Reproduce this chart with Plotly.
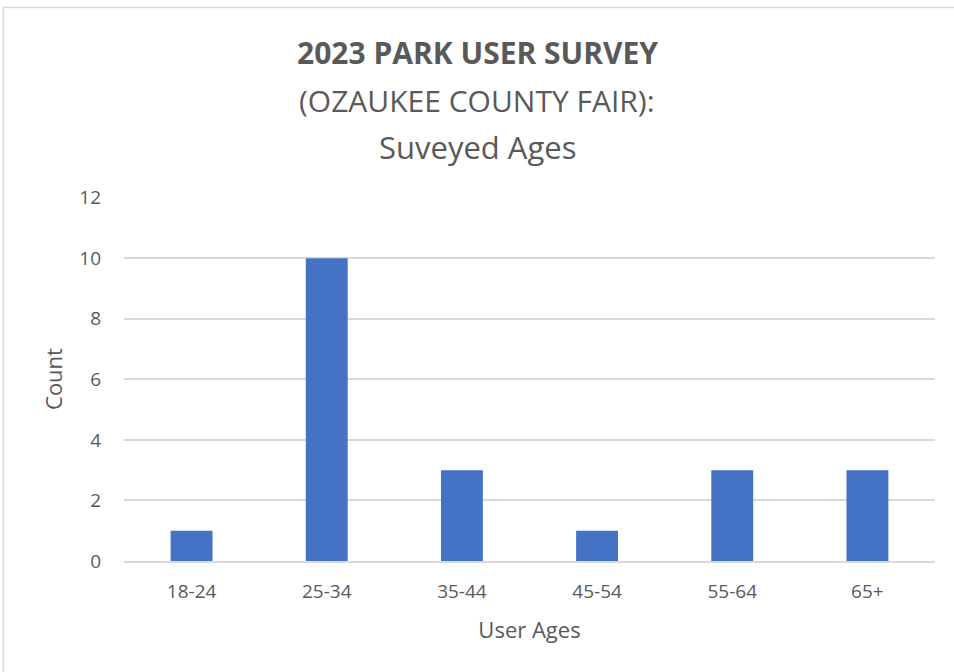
import plotly.graph_objects as go

categories = ["18-24", "25-34", "35-44", "45-54", "55-64", "65+"]
counts = [1, 10, 3, 1, 3, 3]
y_ticks = [0, 2, 4, 6, 8, 10, 12]

W, H = 954, 672
L, R, T, B = 124, 19, 197, 111
pw, ph = W - L - R, H - T - B

def px_x(px):
    return (px - L) / pw

def px_y(py):
    return (H - B - py) / ph

FONT = "Open Sans"
GRAY = "#595959"

fig = go.Figure(go.Bar(x=categories, y=counts, marker=dict(color="#4472C4", line=dict(width=0)),
                       width=0.31))

fig.update_layout(
    width=W, height=H,
    margin=dict(l=L, r=R, t=T, b=B),
    paper_bgcolor="white", plot_bgcolor="white",
    font=dict(family=FONT, color=GRAY),
    showlegend=False,
    xaxis=dict(showgrid=False, showline=True, linecolor="#d9d9d9", linewidth=1.5,
               ticks="", tickfont=dict(size=19, color=GRAY), ticklabelstandoff=12,
               title=dict(text="User Ages", font=dict(size=22, color=GRAY), standoff=20)),
    yaxis=dict(range=[0, 12.02], tickvals=y_ticks, showgrid=True, gridcolor="#d9d9d9", gridwidth=1.5,
               zeroline=False, showline=False, ticks="", tickfont=dict(size=19, color=GRAY),
               ticklabelstandoff=22,
               title=dict(text="Count", font=dict(size=22, color=GRAY), standoff=10)),
    shapes=[dict(type="rect", xref="paper", yref="paper",
                 x0=px_x(3.5), x1=px_x(970), y0=px_y(7.5), y1=px_y(690),
                 line=dict(color="#d9d9d9", width=1.5), layer="below")],
    annotations=[
        dict(text="<b>2023 PARK USER SURVEY</b>", x=px_x(477), y=px_y(52), xref="paper", yref="paper",
             showarrow=False, font=dict(size=30, color=GRAY, family=FONT), xanchor="center", yanchor="middle"),
        dict(text="(OZAUKEE COUNTY FAIR):", x=px_x(477), y=px_y(100), xref="paper", yref="paper",
             showarrow=False, font=dict(size=30, color=GRAY, family=FONT), xanchor="center", yanchor="middle"),
        dict(text="Suveyed Ages", x=px_x(477), y=px_y(147), xref="paper", yref="paper",
             showarrow=False, font=dict(size=31, color=GRAY, family=FONT), xanchor="center", yanchor="middle"),
    ],
)

fig.write_html("out.html", config={"displayModeBar": False},
               post_script="document.body.style.margin='0';")
